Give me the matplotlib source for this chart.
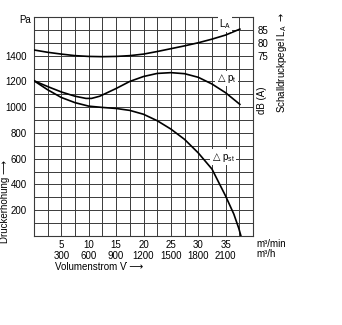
import matplotlib
matplotlib.use("Agg")
import matplotlib.pyplot as plt
from matplotlib.ticker import MultipleLocator

plt.rcParams['font.family'] = ['Liberation Sans', 'DejaVu Sans']
plt.rcParams['font.size'] = 7

# flow in m3/min
q_la = [0, 2.5, 5, 7.5, 10, 12.5, 15, 17.5, 20, 22.5, 25, 27.5, 30, 32.5, 35, 37.6]
la_db = [77.2, 76.3, 75.6, 75.0, 74.7, 74.6, 74.7, 75.0, 75.6, 76.6, 77.7, 78.8, 80.0, 81.4, 83.0, 85.3]

q_pt = [0, 2.5, 5, 7.5, 9.5, 10.5, 12, 13.5, 15, 17.5, 20, 22.5, 25, 27.5, 30, 32.5, 35, 37.6]
dp_t = [1205, 1160, 1118, 1085, 1068, 1068, 1085, 1115, 1145, 1200, 1238, 1262, 1268, 1260, 1232, 1180, 1112, 1022]

q_pst = [0, 2.5, 5, 7.5, 10, 12.5, 15, 17.5, 20, 22.5, 25, 27.5, 30, 32.5, 35, 36.5, 37.4, 37.8]
dp_st = [1205, 1135, 1075, 1035, 1008, 998, 990, 975, 945, 895, 830, 750, 645, 520, 310, 170, 60, 0]

x_ticks = [5, 10, 15, 20, 25, 30, 35]
x_labels_h = [300, 600, 900, 1200, 1500, 1800, 2100]
y_ticks = [200, 400, 600, 800, 1000, 1200, 1400]
db_ticks = [75, 80, 85]

fig = plt.figure(figsize=(3.42, 3.25), dpi=100)
ax = fig.add_axes([34 / 342, 89 / 325, 219 / 342, 219 / 325])

gc = '#3a3a3a'
ax.set_xlim(0, 40)
ax.set_ylim(0, 1700)
ax.xaxis.set_minor_locator(MultipleLocator(2.5))
ax.yaxis.set_minor_locator(MultipleLocator(100))
ax.grid(which='both', color=gc, linewidth=0.7)
ax.set_axisbelow(True)
for s in ax.spines.values():
    s.set_color(gc)
    s.set_linewidth(0.8)

ax.set_xticks(x_ticks)
ax.set_xticklabels([f"{a}\n{b}" for a, b in zip(x_ticks, x_labels_h)])
for lbl in ax.get_xticklabels():
    lbl.set_linespacing(1.15)
ax.set_yticks(y_ticks)
ax.tick_params(which='both', length=0, pad=3)
ax.tick_params(axis='y', pad=5)

ax.plot(q_pt, dp_t, color='black', lw=1.2, zorder=3)
ax.plot(q_pst, dp_st, color='black', lw=1.2, zorder=3)

ax2 = ax.twinx()
ax2.set_ylim(5, 90)
ax2.set_yticks(db_ticks)
ax2.tick_params(length=0, pad=3)
for s in ax2.spines.values():
    s.set_visible(False)
ax2.plot(q_la, la_db, color='black', lw=1.2)

bb = dict(facecolor='white', edgecolor='none', pad=0.8)
ax2.text(34.9, 87.3, r'L$_\mathregular{A}$', ha='center', va='center', bbox=bb)
ax.text(33.3, 1222, r'$\triangle$p$_\mathregular{t}$', ha='left', va='center', bbox=bb, zorder=2)
ax.text(32.3, 613, r'$\triangle$p$_\mathregular{st}$', ha='left', va='center', bbox=bb, zorder=2)

fig.text(25 / 342, 1 - 20 / 325, 'Pa', ha='center', va='center')
fig.text(256 / 342, 1 - 244 / 325, 'm³/min', ha='left', va='center')
fig.text(256 / 342, 1 - 254 / 325, 'm³/h', ha='left', va='center')
fig.text(55 / 342, 1 - 267 / 325, 'Volumenstrom V̇ ⟶', ha='left', va='center')
fig.text(5 / 342, 1 - 243 / 325, 'Druckerhöhung ⟶', rotation=90, ha='center', va='bottom')
fig.text(262 / 342, 1 - 100 / 325, 'dB (A)', rotation=90, ha='center', va='center')
fig.text(282 / 342, 1 - 62 / 325, r'Schalldruckpegel L$_\mathregular{A}$ $\rightarrow$',
         rotation=90, ha='center', va='center')

fig.savefig('out.png', dpi=100)
